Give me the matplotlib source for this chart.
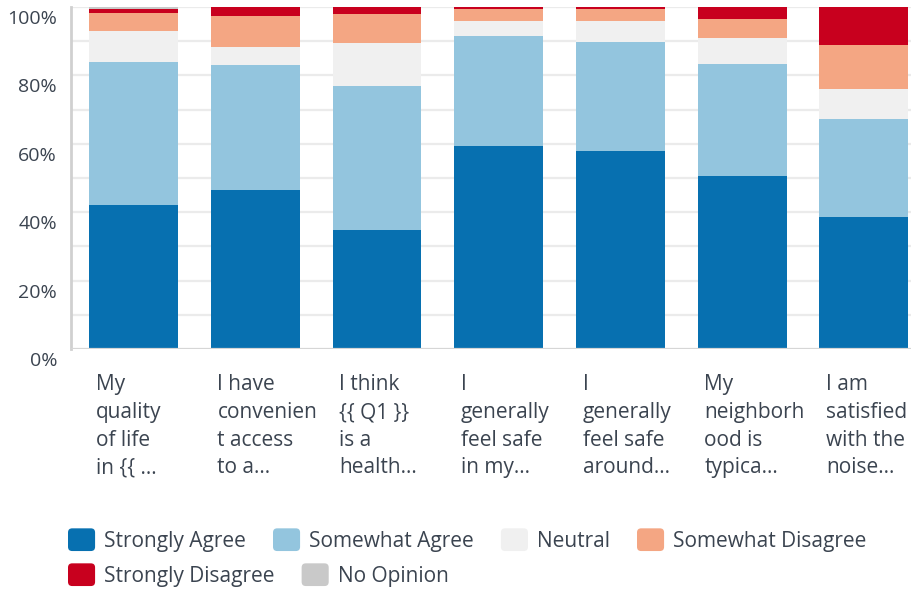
import matplotlib
matplotlib.use("Agg")
import matplotlib.pyplot as plt
import matplotlib.transforms as mtransforms
from matplotlib.patches import Patch, FancyBboxPatch
from matplotlib.legend_handler import HandlerPatch
import numpy as np

plt.rcParams['font.family'] = ['Open Sans', 'DejaVu Sans']

categories = [
    "My\nquality\nof life\nin {{ ...",
    "I have\nconvenien\nt access\nto a...",
    "I think\n{{ Q1 }}\nis a\nhealth...",
    "I\ngenerally\nfeel safe\nin my...",
    "I\ngenerally\nfeel safe\naround...",
    "My\nneighborh\nood is\ntypica...",
    "I am\nsatisfied\nwith the\nnoise...",
]
series_names = ["Strongly Agree", "Somewhat Agree", "Neutral",
                "Somewhat Disagree", "Strongly Disagree", "No Opinion"]
strongly_agree    = [42.2, 46.6, 34.7, 59.3, 57.8, 50.7, 38.7]
somewhat_agree    = [41.8, 36.4, 42.1, 32.2, 31.9, 32.6, 28.5]
neutral           = [9.0, 5.3, 12.6, 4.4, 6.2, 7.6, 8.8]
somewhat_disagree = [5.2, 9.1, 8.5, 3.5, 3.5, 5.6, 12.9]
strongly_disagree = [1.2, 2.6, 2.1, 0.6, 0.6, 3.5, 11.1]
no_opinion        = [0.6, 0.0, 0.0, 0.0, 0.0, 0.0, 0.0]
y_ticks = [0, 20, 40, 60, 80, 100]
y_tick_labels = ["0%", "20%", "40%", "60%", "80%", "100%"]

series = [strongly_agree, somewhat_agree, neutral,
          somewhat_disagree, strongly_disagree, no_opinion]
colors = ["#0770b0", "#93c5de", "#f0f0f0", "#f4a683", "#c8001e", "#c9c9c9"]
text_color = "#3b4450"

W, H = 912, 591
fig = plt.figure(figsize=(W / 100, H / 100), dpi=100)
ax = fig.add_axes([71 / W, 242 / H, 841 / W, 342 / H])

bar_width = 0.73
x = np.arange(len(categories))
bottom = np.zeros(len(categories))
for vals, col, name in zip(series, colors, series_names):
    vals = np.array(vals)
    ax.bar(x, vals, width=bar_width, bottom=bottom, color=col, label=name,
           zorder=3, linewidth=0)
    bottom += vals

ax.set_xlim(-0.515, -0.515 + 841 / 121.7)
ax.set_ylim(0, 100)

# grid
for g in range(10, 101, 10):
    ax.axhline(g, color="#ebebeb", lw=1.6, zorder=1)
ax.axhline(0, color="#d6d6d6", lw=1.6, zorder=4)

for s in ["top", "right", "bottom"]:
    ax.spines[s].set_visible(False)
ax.spines["left"].set_color("#d0d0d0")
ax.spines["left"].set_linewidth(2)

ax.set_yticks(y_ticks)
ax.set_yticklabels(y_tick_labels, fontsize=14, color=text_color)
ax.tick_params(axis="y", length=0, pad=10)
offset = mtransforms.ScaledTranslation(0, -0.10, fig.dpi_scale_trans)
for lab in ax.get_yticklabels():
    lab.set_transform(lab.get_transform() + offset)

ax.set_xticks([])
trans = mtransforms.blended_transform_factory(ax.transData, ax.transAxes)
for xi, lab in zip(x, categories):
    ax.text(xi - bar_width / 2 + 0.053, -0.074, lab, transform=trans,
            ha="left", va="top", multialignment="left", fontsize=15,
            color=text_color, linespacing=1.42)

def make_box(legend, orig_handle, xdescent, ydescent, width, height, fontsize):
    return FancyBboxPatch((-xdescent, -ydescent), width, height,
                          boxstyle="round,pad=0,rounding_size=3")

handles = [Patch(facecolor=c, edgecolor="none") for c in colors]
fs = 15
common = dict(frameon=False, fontsize=fs, handlelength=1.3, handleheight=1.3,
              handletextpad=0.43, columnspacing=1.3, borderpad=0,
              borderaxespad=0, labelcolor=text_color,
              handler_map={Patch: HandlerPatch(patch_func=make_box)})
leg1 = fig.legend(handles[:4], series_names[:4], ncol=4, loc="center left",
                  bbox_to_anchor=(68 / W, (H - 540) / H), **common)
leg2 = fig.legend(handles[4:], series_names[4:], ncol=2, loc="center left",
                  bbox_to_anchor=(68 / W, (H - 575) / H), **common)

fig.savefig("out.png", dpi=100)
